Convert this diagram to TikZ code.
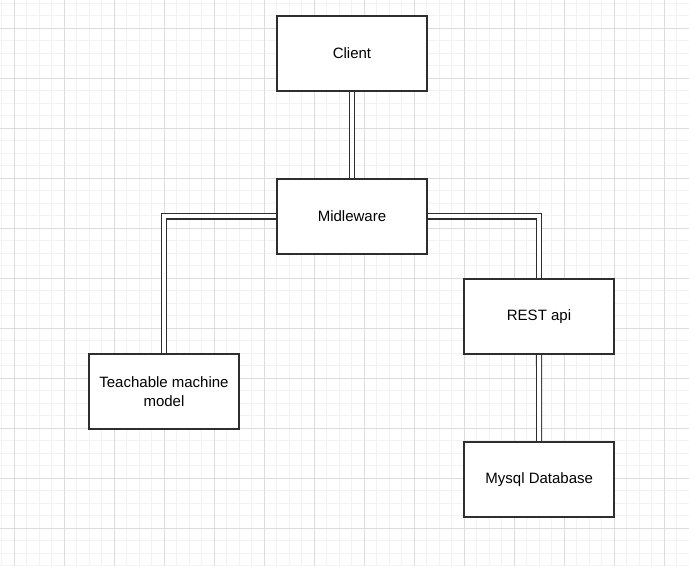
\documentclass[tikz,border=0pt]{standalone}
\usepackage{fontspec}
\setmainfont{Liberation Sans}
\usepackage{tikz}
\usetikzlibrary{positioning,backgrounds}

\definecolor{gridminor}{HTML}{F2F2F2}
\definecolor{gridmajor}{HTML}{DCDCDC}
\definecolor{boxline}{HTML}{2E2E2E}

\begin{document}
\begin{tikzpicture}[x=0.75pt, y=-0.75pt, link/.style = {draw=boxline, line width=0.8pt, double=white, double distance=3pt}]
		\tikzset{box/.style={draw=boxline, line width=1.1pt, fill=white, rectangle, inner sep=0pt, align=center, minimum width=112.5pt, minimum height=56.25pt, font=\fontsize{11.25}{13.75}\selectfont}}

		\useasboundingbox (0,0) rectangle (689,566);

		% Boxes
		\node[box] (client) at (352,53.5) {Client};

		\node[box] (midleware) at (352,216.5) {Midleware};

		\node[box] (restapi) at (539,316.5) {REST api};

		\node[box] (teachable) at (164,391.5) {Teachable machine\\model};

		\node[box] (mysqldb) at (539.2,479.3) {Mysql Database};

		\begin{scope}[on background layer]
		% Grid
		\foreach \i in {0,...,55} \draw[gridminor, line width=0.6pt] ({1.5+12.5*\i},0) -- ({1.5+12.5*\i},566);
		\foreach \i in {0,...,45} \draw[gridminor, line width=0.6pt] (0,{3.3+12.5*\i}) -- (689,{3.3+12.5*\i});
		\foreach \i in {0,...,13} \draw[gridmajor, line width=0.6pt] ({14+50*\i},0) -- ({14+50*\i},566);
		\foreach \i in {0,...,11} \draw[gridmajor, line width=0.6pt] (0,{28.3+50*\i}) -- (689,{28.3+50*\i});

		% Links
		\draw [link] (client) -- (midleware);
		\draw [link] (midleware.west) -| (teachable.north);
		\draw [link] (midleware.east) -| (restapi.north);
		\draw [link] (restapi) -- (mysqldb);
		\end{scope}

	\end{tikzpicture}
\end{document}
